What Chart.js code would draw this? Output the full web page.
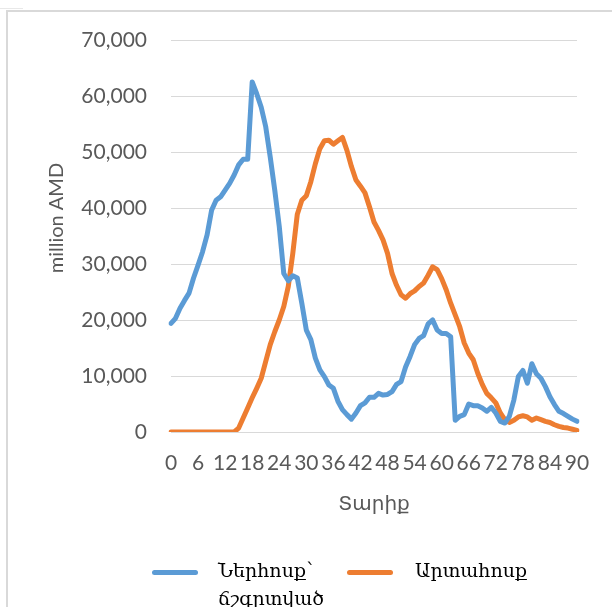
<!DOCTYPE html>
<html>
<head>
<meta charset="utf-8">
<script src="https://cdn.jsdelivr.net/npm/chart.js@4.4.1/dist/chart.umd.min.js"></script>
<style>
  html, body { margin: 0; padding: 0; background: #fff; }
  #wrap { position: relative; width: 612px; height: 607px; overflow: hidden; }
  #frame { position: absolute; left: 6px; top: 10px; right: -2px; bottom: -2px;
           border-left: 2px solid #d9d9d9; border-top: 2px solid #d9d9d9; }
  #tick { position: absolute; left: 0; top: 8px; width: 23px; height: 1px; background: #e8e8e8; }
  .mark { position: absolute; height: 5px; width: 46px; border-radius: 3px; }
  .txt { position: absolute; font-family: "DejaVu Serif", serif; font-size: 19px;
         line-height: 28px; color: #000; white-space: nowrap; }
</style>
</head>
<body>
<div id="wrap">
  <div id="tick"></div>
  <div id="frame"></div>
  <canvas id="chart"></canvas>
  <div class="mark" style="left:152px; top:570px; background:#5B9BD5;"></div>
  <div class="txt" style="left:218px; top:556px;">Ներհոսք՝<br>ճշգրտված</div>
  <div class="mark" style="left:347px; top:570px; background:#ED7D31;"></div>
  <div class="txt" style="left:415px; top:556px;">Արտահոսք</div>
</div>
<script>
// Տարիք (0 ... 90)
var ages = [
  0, 1, 2, 3, 4, 5, 6, 7, 8, 9, 10, 11, 12, 13, 14, 15, 16, 17, 18, 19,
  20, 21, 22, 23, 24, 25, 26, 27, 28, 29, 30, 31, 32, 33, 34, 35, 36, 37, 38, 39,
  40, 41, 42, 43, 44, 45, 46, 47, 48, 49, 50, 51, 52, 53, 54, 55, 56, 57, 58, 59,
  60, 61, 62, 63, 64, 65, 66, 67, 68, 69, 70, 71, 72, 73, 74, 75, 76, 77, 78, 79,
  80, 81, 82, 83, 84, 85, 86, 87, 88, 89, 90
];

// Ներհոսք՝ ճշգրտված (million AMD)
var inflow = [
  19400, 20300, 22100, 23500, 24800, 27500, 29800, 32200, 35200, 39600,
  41400, 42000, 43200, 44400, 45900, 47700, 48700, 48700, 62500, 60400,
  58000, 54500, 49100, 43200, 36700, 28300, 27000, 27900, 27500, 23000,
  18200, 16500, 13200, 11100, 9900, 8400, 7800, 5500, 4000, 3100,
  2300, 3400, 4700, 5200, 6200, 6200, 6900, 6600, 6700, 7200,
  8500, 9000, 11600, 13500, 15600, 16700, 17200, 19300, 20000, 18200,
  17600, 17600, 17000, 2100, 2800, 3100, 5000, 4700, 4700, 4300,
  3700, 4400, 3400, 1900, 1600, 2800, 5700, 9900, 11000, 8700,
  12200, 10400, 9600, 8100, 6300, 4900, 3700, 3300, 2800, 2300,
  1900
];

// Արտահոսք (million AMD)
var outflow = [
  0, 0, 0, 0, 0, 0, 0, 0, 0, 0,
  0, 0, 0, 0, 0, 700, 2500, 4300, 6100, 7800,
  9600, 12600, 15600, 17900, 20000, 22400, 26000, 31900, 38900, 41400,
  42200, 44700, 47900, 50600, 52000, 52100, 51400, 52000, 52600, 50300,
  47400, 45000, 43900, 42700, 40200, 37500, 36000, 34300, 31900, 28300,
  26200, 24500, 23900, 24700, 25200, 26000, 26600, 28000, 29500, 29000,
  27400, 25400, 23000, 20900, 18800, 15900, 14100, 12900, 10500, 8500,
  6900, 6100, 5200, 3400, 2200, 1700, 2100, 2700, 2900, 2700,
  2100, 2500, 2200, 1900, 1700, 1300, 1000, 800, 700, 500,
  300
];

var seriesNames = ["Ներհոսք՝ ճշգրտված", "Արտահոսք"];
var seriesColors = ["#5B9BD5", "#ED7D31"];
var xTickStep = 6;
var yMax = 70000;
var yStep = 10000;

var tickFont = { family: "Lato, 'DejaVu Sans', sans-serif", size: 21 };

var makeLine = function (label, data, color) {
  return {
    label: label,
    data: data,
    borderColor: color,
    backgroundColor: color,
    borderWidth: 5,
    pointRadius: 0,
    tension: 0,
    borderJoinStyle: "round",
    borderCapStyle: "round",
    fill: false,
  };
};

new Chart(document.getElementById("chart"), {
  type: "line",
  data: {
    labels: ages,
    datasets: [
      makeLine(seriesNames[0], inflow, seriesColors[0]),
      makeLine(seriesNames[1], outflow, seriesColors[1]),
    ],
  },
  options: {
    responsive: true,
    maintainAspectRatio: false,
    animation: false,
    events: [],
    layout: {
      padding: { left: 45, top: 40, right: 35, bottom: 87 },
    },
    plugins: {
      legend: { display: false },
      tooltip: { enabled: false },
    },
    scales: {
      x: {
        grid: { display: false, drawTicks: false },
        border: { display: false },
        ticks: {
          autoSkip: false,
          maxRotation: 0,
          minRotation: 0,
          padding: 19,
          color: "#595959",
          font: tickFont,
          callback: function (value, index) {
            return ages[index] % xTickStep === 0 ? String(ages[index]) : "";
          },
        },
        title: {
          display: true,
          text: "Տարիք",
          color: "#595959",
          font: { family: "'DejaVu Sans', sans-serif", size: 20 },
          padding: { top: 0, bottom: 3 },
        },
        afterFit: function (scale) {
          scale.height = 88;
        },
      },
      y: {
        min: 0,
        max: yMax,
        grid: { color: "#d9d9d9", lineWidth: 1, drawTicks: false },
        border: { display: false },
        ticks: {
          stepSize: yStep,
          padding: 24,
          color: "#595959",
          font: tickFont,
          callback: function (value) {
            return value.toLocaleString("en-US");
          },
        },
        title: {
          display: true,
          text: "       million AMD",
          color: "#595959",
          font: { family: "Lato, sans-serif", size: 20 },
          padding: { top: 0, bottom: 0 },
        },
        afterFit: function (scale) {
          scale.width = 126;
        },
      },
    },
  },
});
</script>
</body>
</html>
